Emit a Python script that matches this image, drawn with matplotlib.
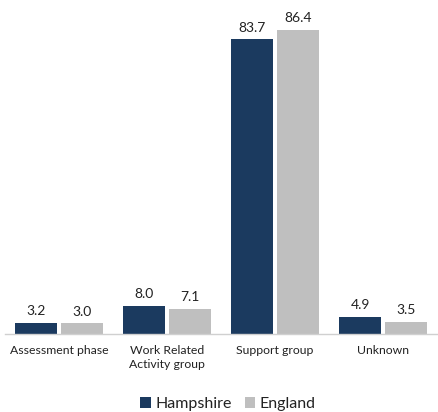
import matplotlib.pyplot as plt
import numpy as np

categories = ["Assessment phase", "Work Related\nActivity group", "Support group", "Unknown"]
hampshire = [3.2, 8.0, 83.7, 4.9]
england = [3.0, 7.1, 86.4, 3.5]
series_names = ["Hampshire", "England"]
colors = ["#1b3a5f", "#bfbfbf"]

plt.rcParams['font.family'] = ['Lato', 'DejaVu Sans']

fig = plt.figure(figsize=(4.38, 4.12), dpi=100)
ax = fig.add_axes([5/438, 1 - 334/412, 432/438, 334/412])

x = np.arange(len(categories))
w = 0.39
gap = 0.018
b1 = ax.bar(x - w/2 - gap, hampshire, w, color=colors[0], label=series_names[0])
b2 = ax.bar(x + w/2 + gap, england, w, color=colors[1], label=series_names[1])

for bars, vals in ((b1, hampshire), (b2, england)):
    for r, v in zip(bars, vals):
        ax.annotate(f"{v:.1f}", (r.get_x() + r.get_width()/2, v),
                    xytext=(0, 4), textcoords="offset points",
                    ha="center", va="bottom", fontsize=10, color="#222222")

ax.set_xlim(-0.5, len(categories) - 0.5)
ax.set_ylim(0, 94.9)
ax.set_yticks([])
ax.set_xticks(x)
ax.set_xticklabels(categories, fontsize=8.8, color="#222222", linespacing=1.3, va="top")
ax.tick_params(axis="x", length=0, pad=8)
for s in ("top", "right", "left"):
    ax.spines[s].set_visible(False)
ax.spines["bottom"].set_color("#d0d0d0")
ax.spines["bottom"].set_linewidth(1)

fig.legend(loc="center", bbox_to_anchor=(228/438, 1 - 404/412), ncol=2, frameon=False,
           fontsize=11.5, handlelength=0.65, handleheight=0.65, handletextpad=0.3,
           columnspacing=0.8, labelcolor="#222222", borderpad=0)

fig.savefig("out.png", dpi=100)
